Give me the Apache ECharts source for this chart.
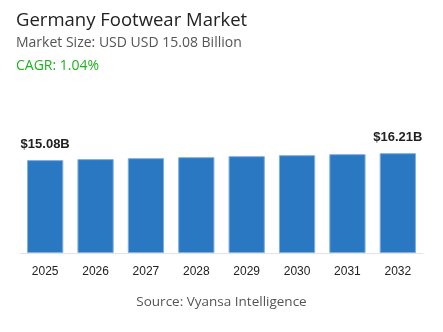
<!DOCTYPE html>
<html><head><meta charset="utf-8">
<script src="https://cdn.jsdelivr.net/npm/echarts@6/dist/echarts.min.js"></script>
<style>html,body{margin:0;padding:0;background:#fff}#c{width:443px;height:332px}</style>
</head><body><div id="c"></div>
<script>
const years = ['2025','2026','2027','2028','2029','2030','2031','2032'];
const values = [15.08, 15.24, 15.40, 15.56, 15.72, 15.88, 16.05, 16.21];
const labelText = ['$15.08B', '', '', '', '', '', '', '$16.21B'];
const titleText = 'Germany Footwear Market';
const subText = 'Market Size: USD USD 15.08 Billion';
const cagrText = 'CAGR: 1.04%';
const sourceText = 'Source: Vyansa Intelligence';

const chart = echarts.init(document.getElementById('c'));
chart.setOption({
  animation: false,
  grid: {left: 20, right: 20, top: 99, bottom: 79},
  xAxis: {
    type: 'category', data: years,
    axisLine: {lineStyle: {color: '#e3e3e3', width: 1}},
    axisTick: {show: false},
    axisLabel: {color: '#222', fontSize: 12, fontFamily: 'Liberation Sans, Arial', margin: 13}
  },
  yAxis: {type: 'value', min: 0, max: 25, show: false, splitLine: {show: false}},
  series: [{
    type: 'bar', data: values, barCategoryGap: '28%',
    itemStyle: {color: '#2b78c2', borderColor: '#7fb0e0', borderWidth: 1},
    label: {
      show: true, position: 'top', distance: 9,
      formatter: p => labelText[p.dataIndex],
      color: '#222', fontSize: 13, fontWeight: 'bold', fontFamily: 'Liberation Sans, Arial'
    }
  }],
  graphic: [
    {type: 'text', left: 16, top: 11, style: {text: titleText, fill: '#222', font: '500 18.5px "Open Sans"'}},
    {type: 'text', left: 16, top: 36, style: {text: subText, fill: '#555', font: '14px "Open Sans"'}},
    {type: 'text', left: 16, top: 59, style: {text: cagrText, fill: '#1db31d', font: '14px "Open Sans"'}},
    {type: 'text', left: 'center', top: 295, style: {text: sourceText, fill: '#555', font: '13.5px "Open Sans"'}}
  ]
});
</script></body></html>
